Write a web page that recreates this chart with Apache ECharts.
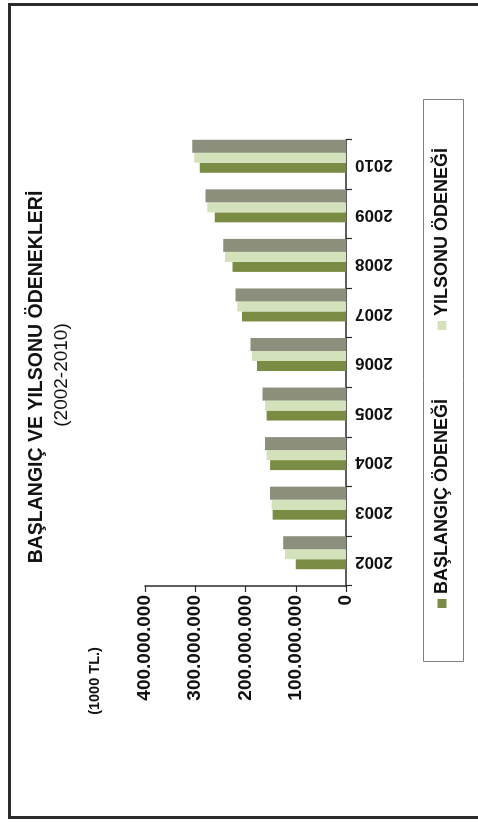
<!DOCTYPE html>
<html>
<head>
<meta charset="utf-8">
<script src="https://cdn.jsdelivr.net/npm/echarts@6/dist/echarts.min.js"></script>
<style>
  html, body { margin: 0; padding: 0; background: #fff; }
  #wrap { position: relative; width: 478px; height: 823px; overflow: hidden; }
  /* the chart is drawn upright (823 x 478) and turned a quarter to the left */
  #main {
    position: absolute; left: 0; top: 0;
    width: 823px; height: 478px;
    transform-origin: 0 0;
    transform: translateY(823px) rotate(-90deg);
  }
</style>
</head>
<body>
<div id="wrap"><div id="main"></div></div>
<script>
const chart = echarts.init(document.querySelector('#main'))

const FONT = "'Liberation Sans', Arial, sans-serif"

const YEARS = ['2002', '2003', '2004', '2005', '2006', '2007', '2008', '2009', '2010']

// 1000 TL
const BASLANGIC = [100000000, 146000000, 151000000, 158000000, 177000000, 207000000, 226000000, 261000000, 291000000]
const YILSONU = [121500000, 148000000, 158000000, 161000000, 187000000, 216500000, 241000000, 276000000, 302000000]
// grey side face of the 3d columns
const YILSONU_SIDE = [125000000, 151000000, 161000000, 166000000, 190000000, 219700000, 244500000, 279500000, 306000000]

const VALUE_TICKS = ['0', '100.000.000', '200.000.000', '300.000.000', '400.000.000']
const VALUE_STEP = 100000000

const SERIES_NAMES = ['BAŞLANGIÇ ÖDENEĞİ', 'YILSONU ÖDENEĞİ']

const AXIS_COLOR = '#2a2a2a'

let option = {
  animation: false,
  backgroundColor: '#fff',
  textStyle: { fontFamily: FONT },
  legend: {
    data: SERIES_NAMES,
    left: 210,
    top: 428,
    icon: 'rect',
    itemWidth: 9,
    itemHeight: 9,
    itemGap: 69,
    textStyle: { fontFamily: FONT, fontSize: 18, fontWeight: 'bold', color: '#111' }
  },
  graphic: [
    {
      type: 'rect',
      shape: { x: 5.5, y: 9.5, width: 813, height: 500 },
      style: { fill: 'none', stroke: '#2b2b2b', lineWidth: 3 },
      silent: true
    },
    {
      type: 'rect',
      shape: { x: 161.5, y: 423.5, width: 562, height: 40 },
      style: { fill: 'none', stroke: '#808080', lineWidth: 1 },
      silent: true
    },
    {
      type: 'text',
      x: 446, y: 37,
      style: {
        text: 'BAŞLANGIÇ VE YILSONU ÖDENEKLERİ',
        font: 'bold 19.5px ' + FONT,
        fill: '#111',
        textAlign: 'center',
        textVerticalAlign: 'middle'
      }
    },
    {
      type: 'text',
      x: 448, y: 62,
      style: {
        text: '(2002-2010)',
        font: '19px ' + FONT,
        fill: '#111',
        textAlign: 'center',
        textVerticalAlign: 'middle'
      }
    },
    {
      type: 'text',
      x: 142, y: 95,
      style: {
        text: '(1000 TL.)',
        font: 'bold 14.5px ' + FONT,
        fill: '#111',
        textAlign: 'center',
        textVerticalAlign: 'middle'
      }
    }
  ],
  grid: [
    // visible axes
    { left: 237, right: 140, top: 145, bottom: 132, outerBoundsMode: 'none' },
    // bars, shifted like the 3d floor of the original
    { left: 245.5, right: 131.5, top: 145, bottom: 132, outerBoundsMode: 'none' }
  ],
  xAxis: [
    {
      gridIndex: 0,
      type: 'category',
      data: YEARS,
      axisLine: { show: true, lineStyle: { color: AXIS_COLOR, width: 1.5 } },
      axisTick: { show: true, length: 6, lineStyle: { color: AXIS_COLOR, width: 1.2 } },
      axisLabel: {
        rotate: 90,
        margin: 9,
        fontFamily: FONT,
        fontSize: 17,
        fontWeight: 'bold',
        color: '#111'
      }
    },
    { gridIndex: 1, type: 'category', data: YEARS, show: false }
  ],
  yAxis: [
    {
      gridIndex: 0,
      type: 'value',
      min: 0,
      max: 400000000,
      interval: VALUE_STEP,
      splitLine: { show: false },
      axisLine: { show: true, lineStyle: { color: AXIS_COLOR, width: 1.5 } },
      axisTick: { show: true, length: 6, lineStyle: { color: AXIS_COLOR, width: 1.2 } },
      axisLabel: {
        margin: 9,
        fontFamily: FONT,
        fontSize: 19,
        fontWeight: 'bold',
        color: '#111',
        formatter: v => VALUE_TICKS[Math.round(v / VALUE_STEP)]
      }
    },
    { gridIndex: 1, type: 'value', min: 0, max: 400000000, show: false }
  ],
  series: [
    {
      name: SERIES_NAMES[0],
      type: 'bar',
      xAxisIndex: 1,
      yAxisIndex: 1,
      data: BASLANGIC,
      barWidth: 10,
      barGap: '0%',
      itemStyle: { color: '#7a8b44' }
    },
    {
      name: SERIES_NAMES[1],
      type: 'bar',
      xAxisIndex: 1,
      yAxisIndex: 1,
      data: YILSONU,
      barWidth: 10,
      barGap: '0%',
      itemStyle: { color: '#d4e2bc' }
    },
    {
      name: 'side',
      type: 'bar',
      xAxisIndex: 1,
      yAxisIndex: 1,
      data: YILSONU_SIDE,
      barWidth: 13,
      barGap: '0%',
      silent: true,
      itemStyle: { color: '#8b8f7c' }
    }
  ]
}

chart.setOption(option)
</script>
</body>
</html>
